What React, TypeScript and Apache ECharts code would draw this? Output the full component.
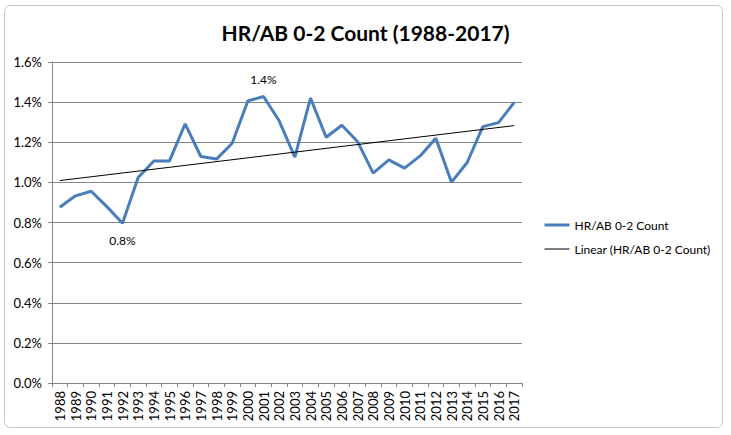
import React, { useEffect, useRef } from "react";
import * as echarts from "echarts";

const years = [
  "1988", "1989", "1990", "1991", "1992", "1993", "1994", "1995", "1996", "1997",
  "1998", "1999", "2000", "2001", "2002", "2003", "2004", "2005", "2006", "2007",
  "2008", "2009", "2010", "2011", "2012", "2013", "2014", "2015", "2016", "2017",
];
// HR/AB on 0-2 counts, in percent
const hrRate = [
  0.876, 0.933, 0.956, 0.879, 0.796, 1.024, 1.107, 1.107, 1.292, 1.129,
  1.116, 1.195, 1.406, 1.428, 1.307, 1.126, 1.42, 1.225, 1.285, 1.204,
  1.046, 1.112, 1.071, 1.132, 1.22, 1.001, 1.099, 1.278, 1.298, 1.398,
];
// Linear trend line end values (percent)
const trendEnds = [1.009, 1.283];
const yTicks = { min: 0, max: 1.6, interval: 0.2 };

const seriesName = "HR/AB 0-2 Count";
const trendName = "Linear (HR/AB 0-2 Count)";
const titleText = "HR/AB 0-2 Count (1988-2017)";

const FONT = "Lato, 'Liberation Sans', sans-serif";

export default function App() {
  const ref = useRef<HTMLDivElement>(null);
  useEffect(() => {
    document.body.style.margin = "0";
    const chart = echarts.init(ref.current!, null, { renderer: "svg" });
    chart.setOption({
      animation: false,
      backgroundColor: "#ffffff",
      textStyle: { fontFamily: FONT },
      graphic: [
        {
          type: "rect",
          shape: { x: 4.5, y: 5.5, width: 718, height: 422, r: 6 },
          style: { fill: "none", stroke: "#c6c6c6", lineWidth: 1 },
          silent: true,
          z: -1,
        },
      ],
      title: {
        text: titleText,
        left: "center",
        top: 17,
        textStyle: { fontFamily: FONT, fontSize: 21, fontWeight: "bold", color: "#000" },
      },
      legend: {
        orient: "vertical",
        left: 543,
        top: 219,
        padding: 0,
        itemWidth: 25,
        itemHeight: 12,
        itemGap: 12,
        itemStyle: { color: "transparent", borderColor: "transparent", borderWidth: 0, opacity: 0 },
        lineStyle: { width: "inherit" },
        textStyle: { fontFamily: FONT, fontSize: 12, color: "#000" },
        data: [seriesName, trendName],
      },
      grid: { left: 52, right: 209, top: 62, bottom: 52, containLabel: false },
      xAxis: {
        type: "category",
        data: years,
        boundaryGap: true,
        axisLine: { lineStyle: { color: "#868686" } },
        axisTick: { show: true, alignWithLabel: false, length: 4, lineStyle: { color: "#868686" } },
        axisLabel: { rotate: 90, interval: 0, fontSize: 13, color: "#000", margin: 8, fontFamily: FONT },
      },
      yAxis: {
        type: "value",
        min: yTicks.min,
        max: yTicks.max,
        interval: yTicks.interval,
        axisLine: { show: true, lineStyle: { color: "#868686" } },
        axisTick: { show: true, length: 4, lineStyle: { color: "#868686" } },
        splitLine: { lineStyle: { color: "#868686" } },
        axisLabel: {
          fontSize: 13,
          color: "#000",
          margin: 10,
          fontFamily: FONT,
          formatter: (v: number) => v.toFixed(1) + "%",
        },
      },
      series: [
        {
          name: seriesName,
          type: "line",
          data: hrRate,
          symbol: "none",
          lineStyle: { color: "#4A7EBB", width: 3 },
          itemStyle: { color: "#4A7EBB" },
          markPoint: {
            symbol: "circle",
            symbolSize: 0,
            data: [
              { type: "max", label: { position: "top", distance: 11 } },
              { type: "min", label: { position: "bottom", distance: 11 } },
            ],
            label: {
              show: true,
              color: "#000",
              fontSize: 12,
              fontFamily: FONT,
              formatter: (p: any) => Number(p.value).toFixed(1) + "%",
            },
          },
        },
        {
          name: trendName,
          type: "line",
          data: [
            [years[0], trendEnds[0]],
            [years[years.length - 1], trendEnds[1]],
          ],
          symbol: "none",
          lineStyle: { color: "#000", width: 1 },
          itemStyle: { color: "#000" },
        },
      ],
    });
    return () => chart.dispose();
  }, []);
  return <div ref={ref} style={{ width: 731, height: 435 }} />;
}
